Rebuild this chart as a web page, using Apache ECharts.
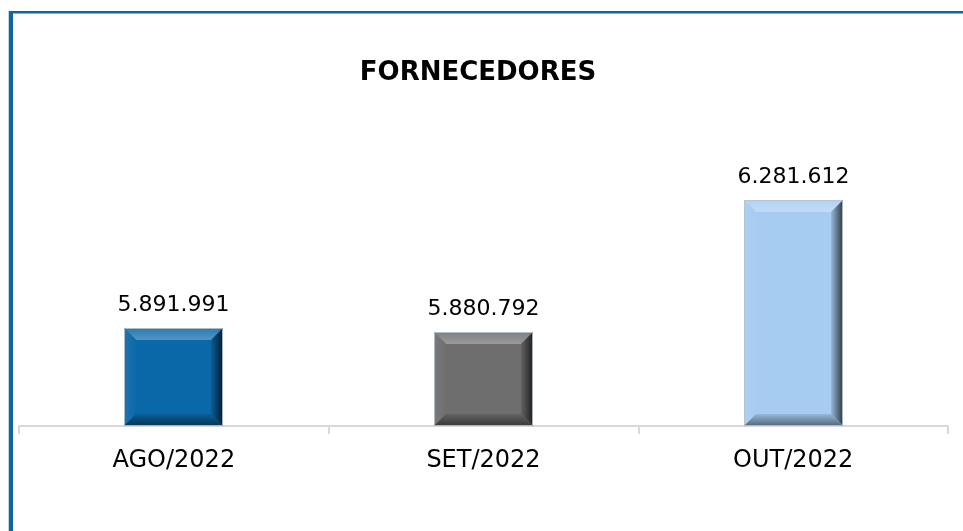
<!DOCTYPE html>
<html>
<head>
<meta charset="utf-8">
<script src="https://cdn.jsdelivr.net/npm/echarts@6/dist/echarts.min.js"></script>
<style>
html,body{margin:0;padding:0;background:#fff;}
#c{width:963px;height:531px;}
</style>
</head>
<body>
<div id="c"></div>
<script>
const categories = ['AGO/2022', 'SET/2022', 'OUT/2022'];
const values = [5891991, 5880792, 6281612];
const barColors = ['#0b68a8', '#6e6e6e', '#a7ccf1'];
const titleText = 'FORNECEDORES';

const yMin = 5594000;
const yMax = 6507200;

function fmt(v) {
  return String(v).replace(/\B(?=(\d{3})+(?!\d))/g, '.');
}
function mix(hex, target, t) {
  const h = hex.replace('#', '');
  const r = parseInt(h.substr(0, 2), 16), g = parseInt(h.substr(2, 2), 16), b = parseInt(h.substr(4, 2), 16);
  const c = (a, z) => Math.round(a + (z - a) * t);
  return 'rgb(' + c(r, target[0]) + ',' + c(g, target[1]) + ',' + c(b, target[2]) + ')';
}
const light = (hex, t) => mix(hex, [255, 255, 255], t);
const dark = (hex, t) => mix(hex, [0, 0, 0], t);

const chart = echarts.init(document.getElementById('c'), null, {renderer: 'canvas'});

const option = {
  backgroundColor: '#ffffff',
  animation: false,
  graphic: [
    {type: 'rect', shape: {x: 8, y: 11, width: 1, height: 520}, style: {fill: '#c9d3dc'}, silent: true},
    {type: 'rect', shape: {x: 9, y: 11, width: 4, height: 520}, style: {fill: '#0b66a6'}, silent: true},
    {type: 'rect', shape: {x: 9, y: 11, width: 954, height: 2.5}, style: {fill: '#0b66a6'}, silent: true},
    {type: 'text', x: 478, y: 73, silent: true,
      style: {text: titleText, fontFamily: 'DejaVu Sans', fontWeight: 'bold', fontSize: 26, fill: '#000', align: 'center', verticalAlign: 'middle'}}
  ],
  grid: {left: 19, right: 15, top: 126, bottom: 105, containLabel: false},
  xAxis: {
    type: 'category',
    data: categories,
    boundaryGap: true,
    axisLine: {lineStyle: {color: '#d9d9d9', width: 2}},
    axisTick: {show: true, length: 8, lineStyle: {color: '#d9d9d9', width: 2}},
    axisLabel: {margin: 23, fontFamily: 'DejaVu Sans', fontSize: 24, color: '#000'}
  },
  yAxis: {
    type: 'value', min: yMin, max: yMax, show: false,
    splitLine: {show: false}
  },
  series: [{
    type: 'custom',
    data: values.map((v, i) => [i, v]),
    renderItem: function (params, api) {
      const idx = api.value(0);
      const val = api.value(1);
      const top = api.coord([idx, val]);
      const base = api.coord([idx, yMin]);
      const band = api.size([1, 0])[0];
      const w = band * 0.32;
      const x0 = Math.round(top[0] - w / 2), x1 = Math.round(top[0] + w / 2);
      const y0 = Math.round(top[1]), y1 = Math.round(base[1]);
      const b = 12;
      const col = barColors[params.dataIndex];
      const grad = (x, y, x2, y2, c1, c2) => ({type: 'linear', x: x, y: y, x2: x2, y2: y2, colorStops: [{offset: 0, color: c1}, {offset: 1, color: c2}]});
      return {
        type: 'group',
        children: [
          {type: 'rect', shape: {x: x0, y: y0, width: x1 - x0, height: y1 - y0}, style: {fill: col}},
          {type: 'polygon', shape: {points: [[x0, y0], [x1, y0], [x1 - b, y0 + b], [x0 + b, y0 + b]]},
            style: {fill: grad(0, 0, 0, 1, light(col, 0.12), light(col, 0.3))}},
          {type: 'polygon', shape: {points: [[x0, y0], [x0 + b, y0 + b], [x0 + b, y1 - b], [x0, y1]]},
            style: {fill: grad(0, 0, 1, 0, light(col, 0.08), col)}},
          {type: 'polygon', shape: {points: [[x1, y0], [x1, y1], [x1 - b, y1 - b], [x1 - b, y0 + b]]},
            style: {fill: grad(0, 0, 1, 0, dark(col, 0.1), dark(col, 0.72))}},
          {type: 'polygon', shape: {points: [[x0, y1], [x1, y1], [x1 - b, y1 - b], [x0 + b, y1 - b]]},
            style: {fill: grad(0, 0, 0, 1, dark(col, 0.1), dark(col, 0.5))}},
          {type: 'rect', shape: {x: x0 + 0.5, y: y0 + 0.5, width: x1 - x0 - 1, height: y1 - y0 - 1},
            style: {fill: 'none', stroke: 'rgba(185,195,205,0.9)', lineWidth: 1}},
          {type: 'text', x: (x0 + x1) / 2, y: y0 - 23,
            style: {text: fmt(val), fontFamily: 'DejaVu Sans', fontSize: 22, fill: '#000', align: 'center', verticalAlign: 'middle'}}
        ]
      };
    }
  }]
};
chart.setOption(option);
</script>
</body>
</html>
